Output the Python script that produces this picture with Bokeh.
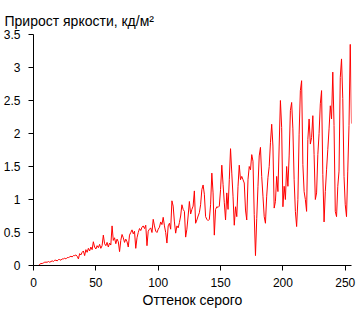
from bokeh.plotting import figure
from bokeh.embed import file_html
from bokeh.resources import INLINE
from bokeh.models import FixedTicker, Title

# ---- data ----
gray_levels = list(range(256))
brightness_gain = [
    0, 0, 0, 0, 0, 0.02, 0.03, 0.03, 0.04, 0.05,
    0.05, 0.05, 0.06, 0.05, 0.06, 0.07, 0.06, 0.08, 0.08, 0.07,
    0.09, 0.09, 0.08, 0.10, 0.10, 0.11, 0.10, 0.12, 0.12, 0.13,
    0.14, 0.13, 0.15, 0.15, 0.16, 0.14, 0.10, 0.18, 0.16, 0.20,
    0.22, 0.15, 0.24, 0.20, 0.26, 0.22, 0.28, 0.24, 0.36, 0.28,
    0.25, 0.30, 0.27, 0.32, 0.26, 0.30, 0.46, 0.33, 0.30, 0.35,
    0.28, 0.34, 0.31, 0.60, 0.38, 0.42, 0.33, 0.40, 0.36, 0.21,
    0.38, 0.47, 0.42, 0.35, 0.40, 0.36, 0.28, 0.46, 0.50, 0.54,
    0.48, 0.52, 0.26, 0.42, 0.50, 0.56, 0.53, 0.58, 0.60, 0.56,
    0.61, 0.30, 0.52, 0.55, 0.57, 0.50, 0.70, 0.60, 0.52, 0.50,
    0.55, 0.58, 0.66, 0.62, 0.73, 0.60, 0.50, 0.34, 0.60, 0.64,
    0.55, 0.98, 0.90, 0.66, 0.49, 0.60, 0.57, 0.65, 0.75, 0.92,
    0.85, 0.82, 0.43, 0.55, 0.75, 0.97, 0.78, 0.85, 0.90, 1.13,
    0.64, 0.69, 0.75, 0.80, 0.92, 1.15, 1.22, 1.08, 0.74, 0.70,
    0.68, 0.70, 0.92, 1.40, 1.10, 0.46, 0.85, 0.89, 0.88, 0.90,
    1.15, 1.52, 1.23, 0.95, 0.69, 1.10, 0.85, 1.30, 1.77, 1.40,
    1.05, 0.61, 0.89, 0.74, 1.20, 1.52, 1.30, 1.35, 1.30, 1.25,
    0.84, 0.69, 1.30, 1.50, 1.45, 1.68, 1.58, 0.77, 0.15, 0.71,
    1.20, 1.66, 1.79, 1.35, 1.05, 0.74, 0.64, 1.05, 1.33, 1.50,
    1.86, 2.14, 1.81, 0.87, 0.97, 1.35, 1.12, 1.81, 2.50, 2.09,
    0.89, 1.20, 1.00, 1.50, 1.20, 1.66, 2.35, 2.47, 2.07, 1.30,
    0.82, 0.59, 1.00, 1.99, 2.65, 2.80, 1.53, 1.12, 1.00, 0.82,
    1.91, 2.22, 1.84, 1.94, 2.27, 1.68, 1.00, 1.10, 1.68, 2.00,
    2.45, 2.65, 1.38, 0.66, 1.12, 1.45, 1.76, 2.07, 2.42, 2.22,
    2.93, 2.12, 0.82, 0.74, 1.20, 1.43, 2.85, 3.13, 2.53, 1.35,
    0.92, 0.74, 1.43, 2.12, 3.35, 2.15,
]
x_ticks = [0, 50, 100, 150, 200, 250]
y_ticks = [0, 0.5, 1, 1.5, 2, 2.5, 3, 3.5]
y_tick_labels = ["0", "0.5", "1", "1.5", "2", "2.5", "3", "3.5"]
title_text = "Прирост яркости, кд/м²"
x_label = "Оттенок серого"

FONT = "Liberation Sans"

p = figure(width=356, height=312, output_backend="svg", toolbar_location=None,
           x_range=(0, 255), y_range=(0, 3.5),
           min_border_left=31, min_border_right=5,
           min_border_top=34, min_border_bottom=47)
p.title = Title(text=title_text, align="left", offset=-29,
                text_font=FONT, text_font_size="14px", text_font_style="normal",
                text_color="black", standoff=12)
p.outline_line_color = None
p.xgrid.visible = False
p.ygrid.visible = False
p.background_fill_color = "white"
p.border_fill_color = "white"

p.line(gray_levels, brightness_gain, line_color="#ff0000", line_width=1)

for ax in (p.xaxis[0], p.yaxis[0]):
    ax.axis_line_color = "black"
    ax.major_tick_line_color = "black"
    ax.major_tick_out = 5
    ax.major_tick_in = 0
    ax.minor_tick_line_color = None
    ax.major_label_text_font = FONT
    ax.major_label_text_font_size = "12px"
    ax.major_label_text_color = "black"

p.xaxis.ticker = FixedTicker(ticks=x_ticks)
p.yaxis.ticker = FixedTicker(ticks=y_ticks)
p.yaxis.major_label_overrides = {t: s for t, s in zip(y_ticks, y_tick_labels)}
p.xaxis.major_label_standoff = 7
p.yaxis.major_label_standoff = 8
p.xaxis.axis_label = x_label
p.xaxis.axis_label_text_font = FONT
p.xaxis.axis_label_text_font_size = "14px"
p.xaxis.axis_label_text_font_style = "normal"
p.xaxis.axis_label_text_color = "black"
p.xaxis.axis_label_standoff = 2

open("out.html", "w").write(file_html(p, INLINE))
